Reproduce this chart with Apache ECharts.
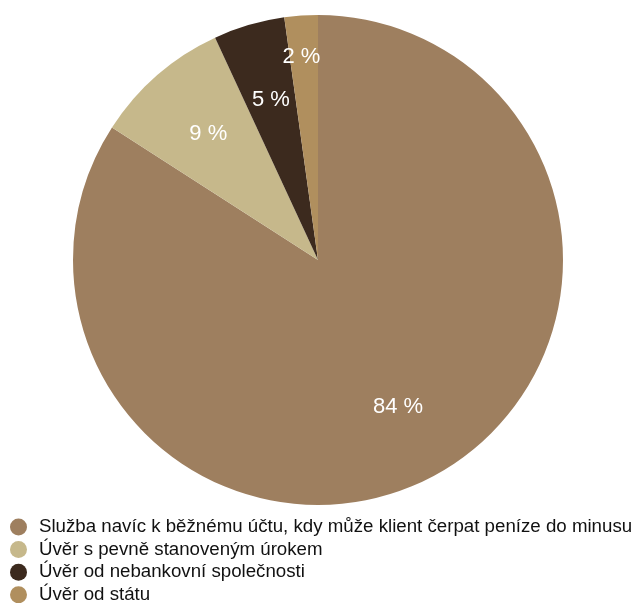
<!DOCTYPE html>
<html><head><meta charset="utf-8">
<style>html,body{margin:0;padding:0;background:#fff}#c{width:637px;height:603px}</style>
<script src="https://cdn.jsdelivr.net/npm/echarts@6/dist/echarts.min.js"></script>
</head><body><div id="c"></div>
<script>
var categories = [
  "Služba navíc k běžnému účtu, kdy může klient čerpat peníze do minusu",
  "Úvěr s pevně stanoveným úrokem",
  "Úvěr od nebankovní společnosti",
  "Úvěr od státu"
];
var values = [84.1, 9.0, 4.7, 2.2];
var colors = ["#9e7f5f", "#c6b88b", "#3c2a1e", "#b08f5e"];

var data = categories.map(function (n, i) { return { name: n, value: values[i] }; });
var chart = echarts.init(document.getElementById('c'));
var R = 245;
chart.setOption({
  animation: false,
  color: colors,
  legend: {
    orient: 'vertical', left: 10, top: 517.5, height: 100, padding: 0,
    icon: 'circle', itemWidth: 17, itemHeight: 17, itemGap: 3.6,
    textStyle: { fontSize: 18.7, lineHeight: 17, color: '#111', fontFamily: 'Liberation Sans, Arial, sans-serif', padding: [0,0,0,7] },
    selectedMode: false,
    data: categories
  },
  series: [
    {
      type: 'pie', center: [318, 260], radius: [0, R],
      startAngle: 90, clockwise: true, silent: true,
      label: { show: false }, labelLine: { show: false },
      itemStyle: { borderWidth: 0 },
      data: data
    },
    {
      type: 'pie', center: [318, 260], radius: [R * 0.34, R],
      startAngle: 90, clockwise: true, silent: true,
      legendHoverLink: false,
      itemStyle: { color: 'rgba(0,0,0,0)', borderWidth: 0 },
      label: {
        show: true, position: 'inside', color: '#fff', fontSize: 22,
        fontFamily: 'Liberation Sans, Arial, sans-serif',
        formatter: function (p) { return Math.round(p.value) + ' %'; }
      },
      labelLayout: function (p) {
        if (p.dataIndex === 3) return { dx: -5, dy: -36 };
        return {};
      },
      labelLine: { show: false },
      data: data.map(function (d) { return { name: d.name + ' ', value: d.value }; })
    }
  ]
});
</script></body></html>
